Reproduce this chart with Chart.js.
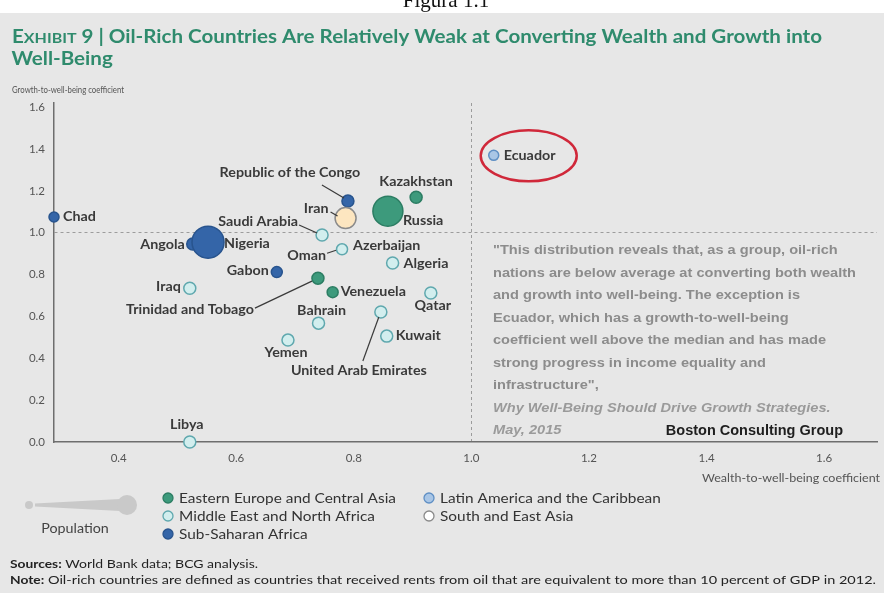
<!DOCTYPE html>
<html>
<head>
<meta charset="utf-8">
<script src="https://cdn.jsdelivr.net/npm/chart.js@4/dist/chart.umd.min.js"></script>
<style>
  html, body { margin: 0; padding: 0; background: #fff; }
  #wrap { width: 884px; height: 593px; }
</style>
</head>
<body>
<div id="wrap"><canvas id="graph" width="884" height="593"></canvas></div>
<script>
// countries and their two coefficients
const countries = [
  'Chad', 'Angola', 'Nigeria', 'Republic of the Congo', 'Iran', 'Russia', 'Kazakhstan',
  'Saudi Arabia', 'Oman', 'Algeria', 'Gabon', 'Iraq', 'Trinidad and Tobago', 'Venezuela',
  'Qatar', 'United Arab Emirates', 'Bahrain', 'Kuwait', 'Yemen', 'Libya', 'Ecuador'
];
const wealthCoef = [
  0.29, 0.526, 0.552, 0.79, 0.786, 0.858, 0.906,
  0.746, 0.78, 0.866, 0.669, 0.521, 0.739, 0.764,
  0.931, 0.846, 0.74, 0.856, 0.688, 0.521, 1.038
];
const growthCoef = [
  1.075, 0.946, 0.955, 1.152, 1.07, 1.103, 1.17,
  0.989, 0.921, 0.855, 0.812, 0.735, 0.783, 0.716,
  0.712, 0.621, 0.568, 0.506, 0.487, 0.0, 1.37
];
// colour group of each bubble (index into groupNames)
const colourGroup = [
  2, 2, 2, 2, 4, 0, 0,
  1, 1, 1, 2, 1, 0, 0,
  1, 1, 1, 1, 1, 1, 3
];
// bubble radius, scaled by population
const popRadius = [
  5, 6, 16, 6, 10.5, 15, 6,
  6, 5.5, 6, 5.5, 6, 6, 5.5,
  6, 6, 6, 6, 6, 6, 5
];
const groupNames = [
  'Eastern Europe and Central Asia',
  'Middle East and North Africa',
  'Sub-Saharan Africa',
  'Latin America and the Caribbean',
  'South and East Asia'
];
const xTicks = [0.4, 0.6, 0.8, 1.0, 1.2, 1.4, 1.6];
const yTicks = [0.0, 0.2, 0.4, 0.6, 0.8, 1.0, 1.2, 1.4, 1.6];

// look of each group
const groupFill = ['#3d9a7c', '#d2eeee', '#3465a8', '#a9c6e6', '#ffffff'];
const groupEdge = ['#2c7d63', '#5fa8ae', '#28548e', '#5f8fc4', '#8a8a8a'];

// where each country name sits around its bubble (px), plus optional leader line
const labelSpots = [
  { name: 'Chad', dx: 9, dy: 0, align: 'left' },
  { name: 'Angola', dx: -8, dy: 1, align: 'right' },
  { name: 'Nigeria', dx: 16, dy: 1, align: 'left' },
  { name: 'Republic of the Congo', dx: -58, dy: -28, align: 'center', lead: [-26, -16, -4, -3] },
  { name: 'Kazakhstan', dx: 0, dy: -16, align: 'center' },
  { name: 'Iran', dx: -17, dy: -9, align: 'right', lead: [-15, -6, -8, -2] },
  { name: 'Russia', dx: 15, dy: 9, align: 'left' },
  { name: 'Saudi Arabia', dx: -24, dy: -13, align: 'right', lead: [-23, -10, -5, -2] },
  { name: 'Oman', dx: -16, dy: 6, align: 'right', lead: [-15, 4, -6, 1] },
  { name: 'Oman', text: 'Azerbaijan', dx: 11, dy: -4, align: 'left' },
  { name: 'Algeria', dx: 11, dy: 1, align: 'left' },
  { name: 'Gabon', dx: -8, dy: -1, align: 'right' },
  { name: 'Iraq', dx: -9, dy: -2, align: 'right' },
  { name: 'Trinidad and Tobago', dx: -64, dy: 31, align: 'right', lead: [-63, 30, -6, 3] },
  { name: 'Venezuela', dx: 8, dy: -1, align: 'left' },
  { name: 'Qatar', dx: 2, dy: 13, align: 'center' },
  { name: 'United Arab Emirates', dx: -22, dy: 59, align: 'center', lead: [-18, 49, -2, 5] },
  { name: 'Bahrain', dx: 3, dy: -13, align: 'center' },
  { name: 'Kuwait', dx: 9, dy: 0, align: 'left' },
  { name: 'Yemen', dx: -2, dy: 13, align: 'center' },
  { name: 'Libya', dx: -3, dy: -17, align: 'center' },
  { name: 'Ecuador', dx: 10, dy: 0, align: 'left' }
];

const quoteLines = [
  '"This distribution reveals that, as a group, oil-rich',
  'nations are below average at converting both wealth',
  'and growth into well-being. The exception is',
  'Ecuador, which has a growth-to-well-being',
  'coefficient well above the median and has made',
  'strong progress in income equality and',
  'infrastructure",'
];

const LABEL_FONT = 'bold 13.5px Lato, "Open Sans", sans-serif';

// one bubble dataset per colour group
let datasets = groupNames.map(function(g, gi) {
  let pts = [];
  countries.forEach(function(c, i) {
    if (colourGroup[i] === gi) {
      pts.push({ x: wealthCoef[i], y: growthCoef[i], r: popRadius[i], name: c });
    }
  });
  let fill = groupFill[gi];
  if (gi === 4) fill = '#fde6c0';
  return {
    label: g,
    data: pts,
    backgroundColor: fill,
    borderColor: groupEdge[gi],
    borderWidth: 1.5,
    clip: false
  };
});
// big bubbles drawn first so the small ones stay on top
datasets.forEach(function(d, i) { d.order = (i === 2 || i === 0) ? 2 : 1; });

// find the pixel centre of a named bubble
function bubblePos(chart, name) {
  let i = countries.indexOf(name);
  return {
    x: chart.scales.x.getPixelForValue(wealthCoef[i]),
    y: chart.scales.y.getPixelForValue(growthCoef[i])
  };
}

// squeeze or stretch a string to a given width
function textFit(ctx, str, x, y, width) {
  let w = ctx.measureText(str).width;
  ctx.save();
  ctx.translate(x, y);
  ctx.scale(width / w, 1);
  ctx.fillText(str, 0, 0);
  ctx.restore();
}

// draw with a fixed horizontal stretch, honouring textAlign
function textWide(ctx, str, x, y, sx) {
  ctx.save();
  ctx.translate(x, y);
  ctx.scale(sx, 1);
  ctx.fillText(str, 0, 0);
  ctx.restore();
}

const exhibitPlugin = {
  id: 'exhibit',
  beforeDraw(chart) {
    const ctx = chart.ctx;
    ctx.save();
    ctx.fillStyle = '#ffffff';
    ctx.fillRect(0, 0, chart.width, chart.height);
    ctx.fillStyle = '#e7e7e7';
    ctx.fillRect(0, 13, chart.width, chart.height - 13);
    // caption above the panel, cut by the page edge
    ctx.fillStyle = '#111';
    ctx.font = '21px "Liberation Serif", "DejaVu Serif", serif';
    ctx.textAlign = 'center';
    ctx.textBaseline = 'alphabetic';
    ctx.fillText('Figura 1.1', 446, 7);
    ctx.restore();
  },
  afterDatasetsDraw(chart) {
    const ctx = chart.ctx;
    ctx.save();
    // leader lines
    ctx.strokeStyle = '#3a3a3a';
    ctx.lineWidth = 1.2;
    labelSpots.forEach(function(s) {
      if (!s.lead) return;
      let p = bubblePos(chart, s.name);
      ctx.beginPath();
      ctx.moveTo(p.x + s.lead[0], p.y + s.lead[1]);
      ctx.lineTo(p.x + s.lead[2], p.y + s.lead[3]);
      ctx.stroke();
    });
    // country names
    ctx.font = LABEL_FONT;
    ctx.fillStyle = '#3a3a3a';
    ctx.textBaseline = 'middle';
    labelSpots.forEach(function(s) {
      let p = bubblePos(chart, s.name);
      ctx.textAlign = s.align;
      textWide(ctx, s.text || s.name, p.x + s.dx, p.y + s.dy, 1.06);
    });
    // red ring around Ecuador
    let e = bubblePos(chart, 'Ecuador');
    ctx.strokeStyle = '#d0283a';
    ctx.lineWidth = 2.5;
    ctx.beginPath();
    ctx.ellipse(e.x + 35, e.y + 0.5, 48, 25.5, 0, 0, Math.PI * 2);
    ctx.stroke();
    ctx.restore();
  },
  afterDraw(chart) {
    const ctx = chart.ctx;
    ctx.save();
    ctx.textBaseline = 'alphabetic';
    ctx.textAlign = 'left';

    // title, with EXHIBIT in small caps
    const green = '#2f8b6d';
    ctx.fillStyle = green;
    const big = 'bold 18px Lato, sans-serif';
    const small = 'bold 14px Lato, sans-serif';
    const rest = ' 9 | Oil-Rich Countries Are Relatively Weak at Converting Wealth and Growth into';
    ctx.font = big; let w1 = ctx.measureText('E').width;
    ctx.font = small; let w2 = ctx.measureText('XHIBIT').width;
    ctx.font = big; let w3 = ctx.measureText(rest).width;
    let sx = 810 / (w1 + w2 + w3);
    ctx.save();
    ctx.translate(12, 43);
    ctx.scale(sx, 1);
    ctx.font = big; ctx.fillText('E', 0, 0);
    ctx.font = small; ctx.fillText('XHIBIT', w1, 0);
    ctx.font = big; ctx.fillText(rest, w1 + w2, 0);
    ctx.fillText('Well-Being', -0.5, 22);
    ctx.restore();

    // axis titles
    ctx.fillStyle = '#555';
    ctx.font = '9.5px Lato, sans-serif';
    ctx.textBaseline = 'middle';
    textFit(ctx, 'Growth-to-well-being coefficient', 12, 90, 112);
    ctx.font = '10.5px Lato, sans-serif';
    textFit(ctx, 'Wealth-to-well-being coefficient', 880 - 178, 479, 178);

    // quote block
    const qSx = 1.08;
    ctx.fillStyle = '#8c8c8c';
    ctx.font = 'bold 13.5px "Liberation Sans", Arial, sans-serif';
    ctx.textBaseline = 'middle';
    let qy = 250.5;
    quoteLines.forEach(function(l, i) { textWide(ctx, l, 493, qy + i * 22.5, qSx); });
    ctx.fillStyle = '#9a9a9a';
    ctx.font = 'italic bold 13.5px "Liberation Sans", Arial, sans-serif';
    textWide(ctx, 'Why Well-Being Should Drive Growth Strategies.', 493, qy + 7 * 22.5, qSx);
    textWide(ctx, 'May, 2015', 493, qy + 8 * 22.5, qSx);
    ctx.fillStyle = '#1e1e1e';
    ctx.font = 'bold 14.5px "Liberation Sans", Arial, sans-serif';
    ctx.textAlign = 'right';
    ctx.fillText('Boston Consulting Group', 843, qy + 8 * 22.5);
    ctx.textAlign = 'left';

    // population key
    ctx.fillStyle = '#c9c9c9';
    ctx.beginPath(); ctx.arc(29, 505, 4, 0, Math.PI * 2); ctx.fill();
    ctx.beginPath();
    ctx.moveTo(35, 503.5); ctx.lineTo(120, 499); ctx.lineTo(120, 511); ctx.lineTo(35, 506.5);
    ctx.closePath(); ctx.fill();
    ctx.beginPath(); ctx.arc(127, 505, 10, 0, Math.PI * 2); ctx.fill();
    ctx.fillStyle = '#444';
    ctx.font = '13.5px Lato, sans-serif';
    ctx.textAlign = 'center';
    textWide(ctx, 'Population', 75, 529, 1.06);
    ctx.textAlign = 'left';

    // group key
    const keySpots = [[168, 498], [168, 516], [168, 534], [429, 498], [429, 516]];
    ctx.font = '14px Lato, sans-serif';
    groupNames.forEach(function(g, i) {
      let k = keySpots[i];
      ctx.beginPath();
      ctx.arc(k[0], k[1], 5, 0, Math.PI * 2);
      ctx.fillStyle = groupFill[i];
      ctx.fill();
      ctx.lineWidth = 1.3;
      ctx.strokeStyle = groupEdge[i];
      ctx.stroke();
      ctx.fillStyle = '#333';
      textWide(ctx, g, k[0] + 11, k[1] + 0.5, 1.1);
    });

    // sources and note
    ctx.fillStyle = '#222';
    const srcX = 10;
    const srcSx = 1.2;
    ctx.font = 'bold 11.5px Lato, sans-serif';
    textWide(ctx, 'Sources:', srcX, 564, srcSx);
    let sw = ctx.measureText('Sources:').width * srcSx;
    ctx.font = '11.5px Lato, sans-serif';
    textFit(ctx, ' World Bank data; BCG analysis.', srcX + sw, 564, 258 - srcX - sw);
    ctx.font = 'bold 11.5px Lato, sans-serif';
    textWide(ctx, 'Note:', srcX, 580, srcSx);
    let nw = ctx.measureText('Note:').width * srcSx;
    ctx.font = '11.5px Lato, sans-serif';
    let note = ' Oil-rich countries are defined as countries that received rents from oil that are equivalent to more than 10 percent of GDP in 2012.';
    textFit(ctx, note, srcX + nw, 580, 876 - srcX - nw);
    ctx.restore();
  }
};

const tickFont = { family: 'Lato, sans-serif', size: 11.5 };

new Chart(document.getElementById('graph'), {
  type: 'bubble',
  data: { datasets: datasets },
  options: {
    responsive: false,
    animation: false,
    devicePixelRatio: 1,
    layout: { autoPadding: false, padding: { top: 103, right: 7, bottom: 0, left: 0 } },
    plugins: {
      legend: { display: false },
      tooltip: { enabled: false }
    },
    scales: {
      x: {
        type: 'linear',
        min: 0.29,
        max: 1.69,
        afterBuildTicks: function(s) { s.ticks = xTicks.map(function(v) { return { value: v }; }); },
        afterFit: function(s) { s.height = 151; s.paddingLeft = 0; s.paddingRight = 0; },
        grid: {
          drawTicks: false,
          lineWidth: 1,
          color: function(c) { return c.tick && c.tick.value === 1 ? '#9c9c9c' : 'rgba(0,0,0,0)'; }
        },
        border: { color: '#6e6e6e', width: 1.5, dash: [3, 3] },
        ticks: {
          padding: 9, color: '#555', font: tickFont, autoSkip: false, maxRotation: 0,
          callback: function(v) { return Number(v).toFixed(1); }
        }
      },
      y: {
        type: 'linear',
        min: 0,
        max: 1.62,
        afterBuildTicks: function(s) { s.ticks = yTicks.map(function(v) { return { value: v }; }); },
        afterFit: function(s) { s.width = 54; s.paddingTop = 0; s.paddingBottom = 0; },
        grid: {
          drawTicks: false,
          lineWidth: 1,
          color: function(c) { return c.tick && c.tick.value === 1 ? '#9c9c9c' : 'rgba(0,0,0,0)'; }
        },
        border: { color: '#6e6e6e', width: 1.5, dash: [3, 3] },
        ticks: {
          padding: 9, color: '#555', font: tickFont, autoSkip: false,
          callback: function(v) { return Number(v).toFixed(1); }
        }
      }
    }
  },
  plugins: [exhibitPlugin]
});
</script>
</body>
</html>
